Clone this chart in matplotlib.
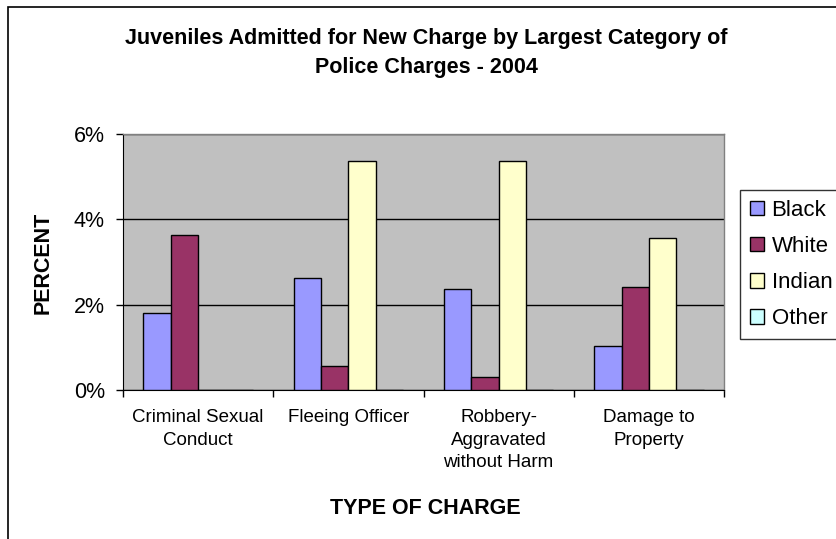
import matplotlib
matplotlib.use("Agg")
import matplotlib.pyplot as plt
import numpy as np
from matplotlib.patches import Rectangle
from matplotlib.ticker import FuncFormatter

plt.rcParams['font.family'] = ['Liberation Sans', 'DejaVu Sans']

categories = ["Criminal Sexual\nConduct", "Fleeing Officer", "Robbery-\nAggravated\nwithout Harm", "Damage to\nProperty"]
series_names = ["Black", "White", "Indian", "Other"]
black = [1.80, 2.62, 2.37, 1.03]
white = [3.63, 0.57, 0.30, 2.42]
indian = [0.0, 5.36, 5.36, 3.57]
other = [0.0, 0.0, 0.0, 0.0]
colors = ["#9999FF", "#993366", "#FFFFCC", "#CCFFFF"]

W, H = 836, 539
fig = plt.figure(figsize=(W / 100, H / 100), dpi=100)

# outer chart frame (extends past right and bottom edges)
fig.patches.append(Rectangle((7.5 / W, -0.05), 1.1, 1.05 - 7 / H, transform=fig.transFigure,
                             fill=False, edgecolor="black", linewidth=1.2))

ax = fig.add_axes([123 / W, 1 - 390 / H, (724 - 123) / W, (390 - 134) / H])
ax.set_facecolor("#C0C0C0")

x = np.arange(len(categories))
w = 1 / 5.5
for i, (vals, name, c) in enumerate(zip([black, white, indian, other], series_names, colors)):
    ax.bar(x + (i - 1.5) * w, vals, width=w, color=c, edgecolor="black", linewidth=1.0, label=name, zorder=3)

ax.set_xlim(-0.5, 3.5)
ax.set_ylim(0, 6)
ax.set_yticks([0, 2, 4, 6])
ax.yaxis.set_major_formatter(FuncFormatter(lambda v, p: f"{v:.0f}%"))
ax.yaxis.grid(True, color="black", linewidth=1.0, zorder=1)
ax.set_axisbelow(True)

ax.set_xticks(np.arange(-0.5, 4.0, 1.0))
ax.set_xticklabels([])
ax.set_xticks(x, minor=True)
ax.set_xticklabels(categories, minor=True, fontsize=13.5, linespacing=1.4)
ax.tick_params(axis="x", which="minor", length=0, pad=14)
ax.tick_params(axis="x", which="major", length=5, direction="out", width=1)
ax.tick_params(axis="y", length=5, direction="out", labelsize=15.5, width=1, pad=8)

for s in ["top", "right"]:
    ax.spines[s].set_color("#808080")
    ax.spines[s].set_linewidth(1.0)
ax.spines["left"].set_color("black")
ax.spines["bottom"].set_color("black")

fig.text(426 / W, 1 - 53 / H, "Juveniles Admitted for New Charge by Largest Category of\nPolice Charges - 2004",
         ha="center", va="center", fontsize=15.5, fontweight="bold", linespacing=1.45)
fig.text(43 / W, 1 - 263 / H, "PERCENT", rotation=90, ha="center", va="center", fontsize=15.5, fontweight="bold")
fig.text(425 / W, 1 - 508 / H, "TYPE OF CHARGE", ha="center", va="center", fontsize=15.5, fontweight="bold")

leg = fig.legend(loc="upper left", bbox_to_anchor=(740 / W, 1 - 190 / H), fontsize=16, frameon=True,
                 fancybox=False, edgecolor="black", handlelength=0.62, handleheight=0.62, handletextpad=0.35,
                 borderpad=0.45, labelspacing=0.68, borderaxespad=0)
leg.get_frame().set_linewidth(1.0)

fig.savefig("out.png", dpi=100)
